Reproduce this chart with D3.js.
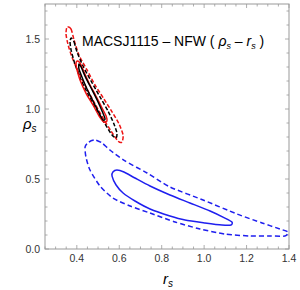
<!DOCTYPE html>
<html>
<head>
<meta charset="utf-8">
<script src="https://cdn.jsdelivr.net/npm/d3@7"></script>
<style>
  body { margin: 0; background: #fff; }
  svg text { font-family: "Liberation Sans", Arial, sans-serif; }
</style>
</head>
<body>
<div id="chart"></div>
<script>
// contour points [r_s, rho_s]
const redOuter = [
  [0.354, 1.586], [0.373, 1.571], [0.387, 1.493], [0.410, 1.386], [0.448, 1.279],
  [0.486, 1.171], [0.528, 1.071], [0.566, 0.979], [0.599, 0.893], [0.618, 0.814],
  [0.613, 0.764], [0.594, 0.771], [0.561, 0.843], [0.523, 0.936], [0.486, 1.036],
  [0.448, 1.143], [0.410, 1.257], [0.377, 1.371], [0.358, 1.464], [0.349, 1.536]
]
const blackOuter = [
  [0.373, 1.507], [0.387, 1.479], [0.401, 1.407], [0.429, 1.307], [0.467, 1.200],
  [0.509, 1.086], [0.547, 0.986], [0.575, 0.893], [0.589, 0.829], [0.585, 0.793],
  [0.566, 0.814], [0.533, 0.893], [0.495, 0.986], [0.457, 1.093], [0.420, 1.207],
  [0.391, 1.321], [0.373, 1.421], [0.368, 1.479]
]
const redInner = [
  [0.401, 1.343], [0.415, 1.329], [0.434, 1.264], [0.457, 1.186], [0.490, 1.093],
  [0.519, 1.007], [0.538, 0.950], [0.542, 0.914], [0.528, 0.907], [0.505, 0.950],
  [0.476, 1.029], [0.443, 1.114], [0.415, 1.207], [0.401, 1.279], [0.396, 1.321]
]
const blackInner = [
  [0.410, 1.321], [0.420, 1.300], [0.443, 1.221], [0.472, 1.136], [0.500, 1.050],
  [0.523, 0.971], [0.533, 0.929], [0.523, 0.921], [0.505, 0.971], [0.476, 1.057],
  [0.448, 1.143], [0.424, 1.229], [0.410, 1.286]
]
const blueOuter = [
  [0.439, 0.729], [0.457, 0.764], [0.486, 0.779], [0.519, 0.757], [0.556, 0.707],
  [0.627, 0.629], [0.731, 0.543], [0.839, 0.443], [0.995, 0.350], [1.155, 0.250],
  [1.273, 0.186], [1.357, 0.143], [1.395, 0.121], [1.381, 0.093], [1.310, 0.093],
  [1.216, 0.093], [1.098, 0.107], [0.980, 0.143], [0.863, 0.193], [0.745, 0.257],
  [0.651, 0.307], [0.570, 0.364], [0.509, 0.450], [0.462, 0.564], [0.443, 0.657]
]
const blueInner = [
  [0.566, 0.521], [0.570, 0.550], [0.589, 0.564], [0.622, 0.550], [0.674, 0.507],
  [0.745, 0.450], [0.839, 0.386], [0.933, 0.329], [1.028, 0.271], [1.098, 0.221],
  [1.131, 0.193], [1.127, 0.171], [1.084, 0.171], [1.004, 0.186], [0.910, 0.207],
  [0.839, 0.236], [0.745, 0.286], [0.674, 0.343], [0.618, 0.400], [0.585, 0.457]
]

const xTicks = [0.4, 0.6, 0.8, 1.0, 1.2, 1.4]
const yTicks = [0.0, 0.5, 1.0, 1.5]
const xMinor = d3.range(0.25, 1.401, 0.05)
const yMinor = d3.range(0, 1.751, 0.1)

const contours = [
  { pts: blueOuter, color: '#1f1fef', dash: '5,3' },
  { pts: blueInner, color: '#1f1fef', dash: null },
  { pts: redOuter, color: '#ee1111', dash: '4,2' },
  { pts: blackOuter, color: '#000', dash: '4,2' },
  { pts: redInner, color: '#ee1111', dash: null },
  { pts: blackInner, color: '#000', dash: null }
]

const W = 300, H = 290
const margin = { top: 4, right: 11, bottom: 41, left: 45 }

const x = d3.scaleLinear().domain([0.25, 1.4]).range([margin.left, W - margin.right])
const y = d3.scaleLinear().domain([0, 1.75]).range([H - margin.bottom, margin.top])

const svg = d3.select('#chart').append('svg').attr('width', W).attr('height', H)

const frameColor = '#999'

// frame
svg.append('rect')
  .attr('x', x(0.25)).attr('y', y(1.75))
  .attr('width', x(1.4) - x(0.25)).attr('height', y(0) - y(1.75))
  .attr('fill', 'none').attr('stroke', frameColor).attr('stroke-width', 1)

// ticks on all four sides, pointing inward
const ticks = svg.append('g').attr('stroke', frameColor).attr('stroke-width', 0.8)
function isMajor(v, list) { return list.some(t => Math.abs(t - v) < 1e-6) }
xMinor.forEach(v => {
  const len = isMajor(v, xTicks) ? 4 : 2.5
  ticks.append('line').attr('x1', x(v)).attr('x2', x(v)).attr('y1', y(0)).attr('y2', y(0) - len)
  ticks.append('line').attr('x1', x(v)).attr('x2', x(v)).attr('y1', y(1.75)).attr('y2', y(1.75) + len)
})
yMinor.forEach(v => {
  const len = isMajor(v, yTicks) ? 4 : 2.5
  ticks.append('line').attr('y1', y(v)).attr('y2', y(v)).attr('x1', x(0.25)).attr('x2', x(0.25) + len)
  ticks.append('line').attr('y1', y(v)).attr('y2', y(v)).attr('x1', x(1.4)).attr('x2', x(1.4) - len)
})

// tick labels
svg.append('g').selectAll('text').data(xTicks).join('text')
  .attr('x', d => x(d)).attr('y', y(0) + 13)
  .attr('text-anchor', 'middle').attr('font-size', 10.5).attr('fill', '#333')
  .text(d3.format('.1f'))
svg.append('g').selectAll('text').data(yTicks).join('text')
  .attr('x', x(0.25) - 5).attr('y', d => y(d) + 3.8)
  .attr('text-anchor', 'end').attr('font-size', 10.5).attr('fill', '#333')
  .text(d3.format('.1f'))

// contours
const line = d3.line().x(d => x(d[0])).y(d => y(d[1])).curve(d3.curveCardinalClosed.tension(0.3))
svg.append('g').selectAll('path').data(contours).join('path')
  .attr('d', d => line(d.pts))
  .attr('fill', 'none')
  .attr('stroke', d => d.color)
  .attr('stroke-width', 1.5)
  .attr('stroke-dasharray', d => d.dash)

// axis labels
const xl = svg.append('text').attr('x', 163).attr('y', 284).attr('font-size', 15).attr('font-style', 'italic')
xl.append('tspan').text('r')
xl.append('tspan').attr('dy', 3).attr('font-size', 10).text('s')
const yl = svg.append('text').attr('x', 23).attr('y', 129).attr('font-size', 15).attr('font-style', 'italic')
yl.append('tspan').text('ρ')
yl.append('tspan').attr('dy', 3).attr('font-size', 10).text('s')

// title
const tt = svg.append('text').attr('x', 82).attr('y', 46).attr('font-size', 14).attr('fill', '#000')
tt.append('tspan').text('MACSJ1115 – NFW ( ')
tt.append('tspan').attr('font-style', 'italic').text('ρ')
tt.append('tspan').attr('font-style', 'italic').attr('dy', 3).attr('font-size', 9).text('s')
tt.append('tspan').attr('dy', -3).text(' – ')
tt.append('tspan').attr('font-style', 'italic').text('r')
tt.append('tspan').attr('font-style', 'italic').attr('dy', 3).attr('font-size', 9).text('s')
tt.append('tspan').attr('dy', -3).text(' )')
</script>
</body>
</html>
